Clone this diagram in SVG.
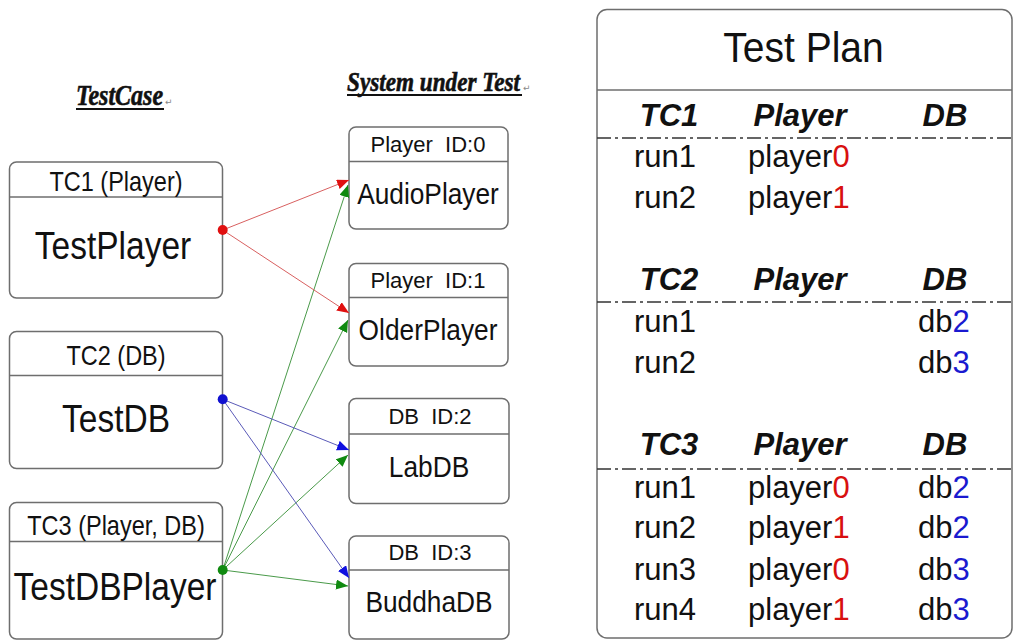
<svg xmlns="http://www.w3.org/2000/svg" width="1016" height="642" viewBox="0 0 1016 642">
<style>
  .box { fill: #fff; stroke: #6e6e6e; stroke-width: 1.5; }
  .div { stroke: #6e6e6e; stroke-width: 1.5; }
  .t { font-family: "Liberation Sans", Arial, sans-serif; fill: #111; text-anchor: middle; }
  .tc { font-size: 23.5px; }
  .big { font-size: 33.5px; }
  .id { font-size: 22px; }
  .nm { font-size: 26.3px; }
  .sec { font-family: "Liberation Serif", "Times New Roman", serif; font-weight: bold; font-style: italic; fill: #111; stroke: #111; stroke-width: 0.5; }
  .mark { font-family: "DejaVu Sans", sans-serif; font-size: 9px; fill: #888; }
  .th { font-family: "Liberation Sans", Arial, sans-serif; font-weight: bold; font-style: italic; font-size: 31px; fill: #111; text-anchor: middle; }
  .td { font-family: "Liberation Sans", Arial, sans-serif; font-size: 31px; fill: #111; }
  .r { fill: #d81010; }
  .b { fill: #1a1ad0; }
  .dash { stroke: #333; stroke-width: 1.3; stroke-dasharray: 14 4 3 4; }
  .cr { stroke: #d86060; stroke-width: 1; fill: none; }
  .cg { stroke: #4a9a4a; stroke-width: 1; fill: none; }
  .cb { stroke: #5a5ab8; stroke-width: 1; fill: none; }
</style>
<defs>
  <marker id="ar" markerUnits="userSpaceOnUse" markerWidth="13" markerHeight="11" refX="12" refY="5" orient="auto"><path d="M0,0 L12,5 L0,10 z" fill="#e01010"/></marker>
  <marker id="ag" markerUnits="userSpaceOnUse" markerWidth="13" markerHeight="11" refX="12" refY="5" orient="auto"><path d="M0,0 L12,5 L0,10 z" fill="#108a10"/></marker>
  <marker id="ab" markerUnits="userSpaceOnUse" markerWidth="13" markerHeight="11" refX="12" refY="5" orient="auto"><path d="M0,0 L12,5 L0,10 z" fill="#1010e0"/></marker>
</defs>
<rect width="1016" height="642" fill="#fff"/>

<!-- section headers -->
<g id="hdr-testcase">
  <text class="sec" font-size="24" transform="translate(76,104.5) scale(1,1.2)">TestCase</text>
  <line x1="76" y1="109" x2="164" y2="109" stroke="#111" stroke-width="2"/>
  <text class="mark" x="165" y="105">↵</text>
</g>
<g id="hdr-sut">
  <text class="sec" font-size="23.2" transform="translate(347,90.5) scale(1,1.2)">System under Test</text>
  <line x1="347" y1="95" x2="522" y2="95" stroke="#111" stroke-width="2"/>
  <text class="mark" x="523" y="91">↵</text>
</g>

<!-- test case nodes -->
<g id="tc1">
  <rect class="box" x="9.5" y="162" width="213" height="136" rx="7"/>
  <line class="div" x1="9.5" y1="197" x2="222.5" y2="197"/>
  <text class="t tc" transform="translate(116,190.5) scale(1,1.2)">TC1 (Player)</text>
  <text class="t big" transform="translate(113,258.5) scale(1,1.17)">TestPlayer</text>
</g>
<g id="tc2">
  <rect class="box" x="9.5" y="331.5" width="213" height="137" rx="7"/>
  <line class="div" x1="9.5" y1="375.5" x2="222.5" y2="375.5"/>
  <text class="t tc" transform="translate(116,365) scale(1,1.2)">TC2 (DB)</text>
  <text class="t big" transform="translate(116,431.5) scale(1,1.17)">TestDB</text>
</g>
<g id="tc3">
  <rect class="box" x="9.5" y="502.5" width="213" height="136.5" rx="7"/>
  <line class="div" x1="9.5" y1="541.5" x2="222.5" y2="541.5"/>
  <text class="t tc" transform="translate(116,535) scale(1,1.2)">TC3 (Player, DB)</text>
  <text class="t big" transform="translate(115,600) scale(1,1.17)">TestDBPlayer</text>
</g>

<!-- system under test nodes -->
<g id="sut0">
  <rect class="box" x="349" y="127" width="159" height="102" rx="7"/>
  <line class="div" x1="349" y1="161.5" x2="508" y2="161.5"/>
  <text class="t id" x="428" y="151.5">Player&#160;&#160;ID:0</text>
  <text class="t nm" transform="translate(428,203.5) scale(1,1.15)">AudioPlayer</text>
</g>
<g id="sut1">
  <rect class="box" x="349" y="263.5" width="159" height="102.5" rx="7"/>
  <line class="div" x1="349" y1="297.5" x2="508" y2="297.5"/>
  <text class="t id" x="428" y="287.5">Player&#160;&#160;ID:1</text>
  <text class="t nm" transform="translate(428,340) scale(1,1.15)">OlderPlayer</text>
</g>
<g id="sut2">
  <rect class="box" x="349" y="398.5" width="160" height="105" rx="7"/>
  <line class="div" x1="349" y1="434" x2="509" y2="434"/>
  <text class="t id" x="430" y="423.5">DB&#160;&#160;ID:2</text>
  <text class="t nm" transform="translate(429,476.5) scale(1,1.15)">LabDB</text>
</g>
<g id="sut3">
  <rect class="box" x="349" y="536" width="160" height="103" rx="7"/>
  <line class="div" x1="349" y1="570" x2="509" y2="570"/>
  <text class="t id" x="430" y="560">DB&#160;&#160;ID:3</text>
  <text class="t nm" transform="translate(429,611.5) scale(1,1.15)">BuddhaDB</text>
</g>

<!-- connectors -->
<g id="connectors">
  <line class="cg" x1="222.7" y1="570" x2="348" y2="185" marker-end="url(#ag)"/>
  <line class="cg" x1="222.7" y1="570" x2="348" y2="320" marker-end="url(#ag)"/>
  <line class="cg" x1="222.7" y1="570" x2="348" y2="455" marker-end="url(#ag)"/>
  <line class="cg" x1="222.7" y1="570" x2="348" y2="586" marker-end="url(#ag)"/>
  <line class="cr" x1="222.7" y1="230" x2="349" y2="180" marker-end="url(#ar)"/>
  <line class="cr" x1="222.7" y1="230" x2="349" y2="313" marker-end="url(#ar)"/>
  <line class="cb" x1="222.7" y1="399.3" x2="349" y2="450" marker-end="url(#ab)"/>
  <line class="cb" x1="222.7" y1="399.3" x2="349" y2="578" marker-end="url(#ab)"/>
  <circle cx="222.7" cy="230" r="5" fill="#e01010"/>
  <circle cx="222.7" cy="399.3" r="5" fill="#1010d0"/>
  <circle cx="222.7" cy="570" r="5" fill="#108a10"/>
</g>

<!-- test plan -->
<g id="testplan">
  <rect class="box" x="597" y="9.5" width="415" height="628.5" rx="10"/>
  <line class="div" x1="597" y1="90" x2="1012" y2="90"/>
  <text class="t" font-size="39" transform="translate(803.5,62) scale(1,1.08)">Test Plan</text>

  <text class="th" x="669" y="126">TC1</text>
  <text class="th" x="800" y="126">Player</text>
  <text class="th" x="945" y="126">DB</text>
  <line class="dash" x1="597" y1="138" x2="1012" y2="138"/>
  <text class="td" x="634" y="167">run1</text>
  <text class="td" x="748" y="167">player<tspan class="r">0</tspan></text>
  <text class="td" x="634" y="208">run2</text>
  <text class="td" x="748" y="208">player<tspan class="r">1</tspan></text>

  <text class="th" x="669" y="290">TC2</text>
  <text class="th" x="800" y="290">Player</text>
  <text class="th" x="945" y="290">DB</text>
  <line class="dash" x1="597" y1="302" x2="1012" y2="302"/>
  <text class="td" x="634" y="332">run1</text>
  <text class="td" x="918" y="332">db<tspan class="b">2</tspan></text>
  <text class="td" x="634" y="373">run2</text>
  <text class="td" x="918" y="373">db<tspan class="b">3</tspan></text>

  <text class="th" x="669" y="455">TC3</text>
  <text class="th" x="800" y="455">Player</text>
  <text class="th" x="945" y="455">DB</text>
  <line class="dash" x1="597" y1="469" x2="1012" y2="469"/>
  <text class="td" x="634" y="498">run1</text>
  <text class="td" x="748" y="498">player<tspan class="r">0</tspan></text>
  <text class="td" x="918" y="498">db<tspan class="b">2</tspan></text>
  <text class="td" x="634" y="538">run2</text>
  <text class="td" x="748" y="538">player<tspan class="r">1</tspan></text>
  <text class="td" x="918" y="538">db<tspan class="b">2</tspan></text>
  <text class="td" x="634" y="580">run3</text>
  <text class="td" x="748" y="580">player<tspan class="r">0</tspan></text>
  <text class="td" x="918" y="580">db<tspan class="b">3</tspan></text>
  <text class="td" x="634" y="620">run4</text>
  <text class="td" x="748" y="620">player<tspan class="r">1</tspan></text>
  <text class="td" x="918" y="620">db<tspan class="b">3</tspan></text>
</g>
</svg>
